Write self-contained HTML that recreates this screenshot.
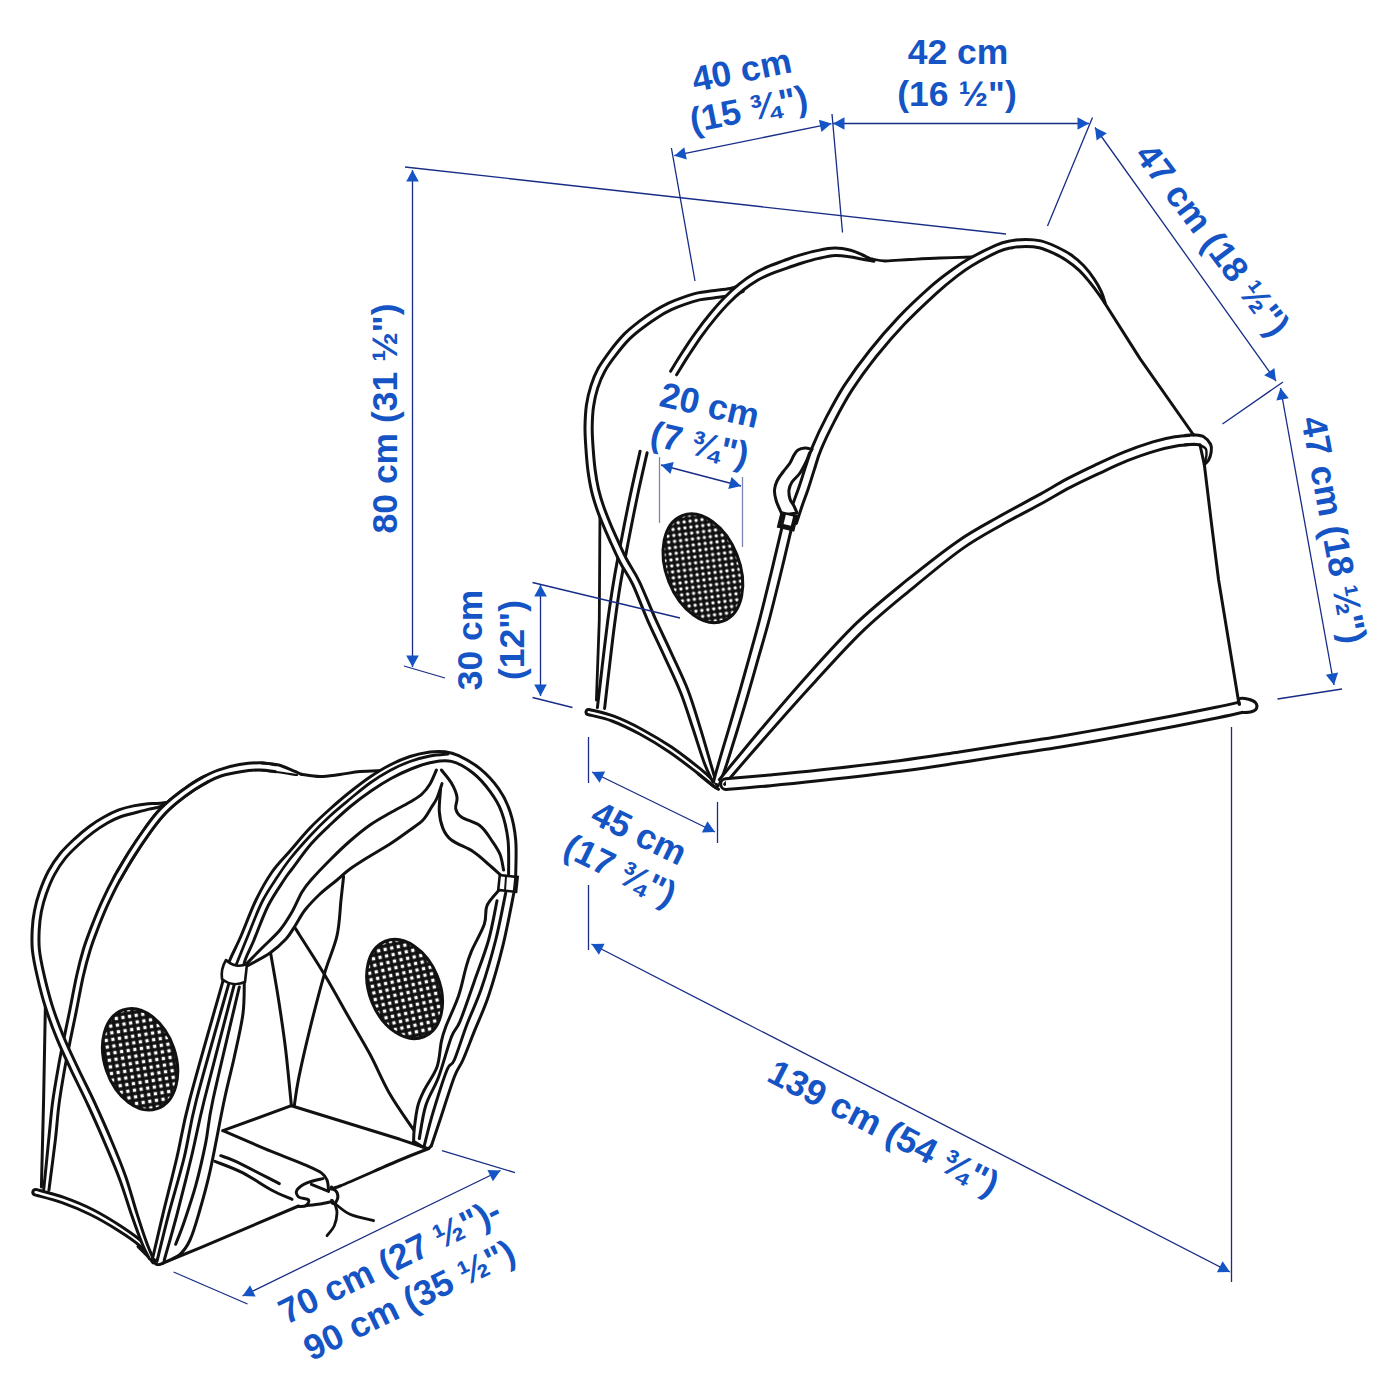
<!DOCTYPE html>
<html><head><meta charset="utf-8"><title>Dimensions</title>
<style>
html,body{margin:0;padding:0;background:#fff;}
svg{display:block}
text{font-family:"Liberation Sans",sans-serif;font-weight:bold;fill:#1554c4;}
</style></head><body>
<svg width="1400" height="1400" viewBox="0 0 1400 1400">
<defs>
<pattern id="mesh" width="6" height="6" patternUnits="userSpaceOnUse" patternTransform="rotate(14)">
<rect width="6" height="6" fill="#111"/><rect x="1.55" y="1.55" width="2.9" height="2.9" rx="0.8" fill="#fff"/>
</pattern>
<pattern id="mesh2" width="6.7" height="6.7" patternUnits="userSpaceOnUse" patternTransform="rotate(10)">
<rect width="6.7" height="6.7" fill="#111"/><rect x="1.7" y="1.7" width="3.3" height="3.3" fill="#fff"/>
</pattern>
</defs>
<rect width="1400" height="1400" fill="#fff"/>
<path d="M600.0,507.0L599.3,620.0L596.4,700.0" fill="none" stroke="#111" stroke-width="2.8" stroke-linecap="round" stroke-linejoin="round"/>
<path d="M640.1,451.2C638.5,458.4 633.6,479.6 630.5,494.3C627.4,508.9 624.3,524.6 621.5,539.3C618.6,554.0 615.7,569.0 613.5,582.4C611.2,595.8 609.8,605.8 607.9,619.5C606.1,633.2 604.2,649.9 602.4,664.6C600.7,679.3 598.3,700.4 597.4,707.6L604.6,708.4C605.4,701.3 607.8,680.1 609.6,665.4C611.3,650.8 613.2,634.1 615.1,620.5C616.9,606.8 618.3,596.9 620.5,583.6C622.8,570.3 625.7,555.3 628.5,540.7C631.4,526.0 634.4,510.4 637.5,495.7C640.6,481.1 645.5,459.9 647.1,452.8Z" fill="#fff" stroke="none"/>
<path d="M640.1,451.2C638.5,458.4 633.6,479.6 630.5,494.3C627.4,508.9 624.3,524.6 621.5,539.3C618.6,554.0 615.7,569.0 613.5,582.4C611.2,595.8 609.8,605.8 607.9,619.5C606.1,633.2 604.2,649.9 602.4,664.6C600.7,679.3 598.3,700.4 597.4,707.6M604.6,708.4C605.4,701.3 607.8,680.1 609.6,665.4C611.3,650.8 613.2,634.1 615.1,620.5C616.9,606.8 618.3,596.9 620.5,583.6C622.8,570.3 625.7,555.3 628.5,540.7C631.4,526.0 634.4,510.4 637.5,495.7C640.6,481.1 645.5,459.9 647.1,452.8" fill="none" stroke="#111" stroke-width="3" stroke-linecap="round" stroke-linejoin="round"/>
<path d="M587.8,714.5C591.8,715.6 603.3,717.7 612.0,721.0C620.7,724.3 630.7,729.2 640.2,734.3C649.6,739.4 659.1,745.1 668.5,751.5C678.0,757.8 689.9,767.2 697.1,772.7C704.2,778.2 708.4,782.0 711.6,784.5C714.8,787.0 715.4,787.3 716.1,787.9L717.9,786.1C717.3,785.3 717.2,784.4 714.2,781.5C711.3,778.6 707.3,774.5 700.1,768.7C693.0,763.0 681.0,753.7 671.5,747.1C661.9,740.6 652.2,734.9 642.6,729.7C633.0,724.5 622.7,719.5 613.8,716.2C604.9,712.8 593.3,710.6 589.2,709.5Z" fill="#fff" stroke="none"/>
<path d="M587.8,714.5C591.8,715.6 603.3,717.7 612.0,721.0C620.7,724.3 630.7,729.2 640.2,734.3C649.6,739.4 659.1,745.1 668.5,751.5C678.0,757.8 689.9,767.2 697.1,772.7C704.2,778.2 708.4,782.0 711.6,784.5C714.8,787.0 715.4,787.3 716.1,787.9M717.9,786.1C717.3,785.3 717.2,784.4 714.2,781.5C711.3,778.6 707.3,774.5 700.1,768.7C693.0,763.0 681.0,753.7 671.5,747.1C661.9,740.6 652.2,734.9 642.6,729.7C633.0,724.5 622.7,719.5 613.8,716.2C604.9,712.8 593.3,710.6 589.2,709.5A2.6,2.6 0 0 0 587.8,714.5" fill="none" stroke="#111" stroke-width="3" stroke-linecap="round" stroke-linejoin="round"/>
<path d="M698.6,774.3C701.0,776.2 709.6,783.2 712.9,785.7C716.2,788.2 717.6,788.7 718.6,789.3" fill="none" stroke="#111" stroke-width="3" stroke-linecap="round" stroke-linejoin="round"/>
<path d="M740.8,284.6C739.0,285.3 734.9,287.5 730.2,288.5C725.5,289.5 717.9,290.0 712.5,290.7C707.1,291.5 702.7,291.8 697.8,292.9C692.9,294.0 688.0,295.6 683.1,297.3C678.2,299.0 673.3,300.8 668.5,303.1C663.6,305.5 658.7,308.2 653.8,311.2C648.9,314.3 644.1,317.7 639.2,321.4C634.3,325.2 629.3,329.0 624.4,333.9C619.6,338.8 614.5,345.1 610.1,350.8C605.8,356.6 601.5,362.4 598.2,368.3C595.0,374.1 592.8,379.8 590.9,385.9C588.9,392.1 587.4,398.4 586.4,405.2C585.5,412.0 585.1,419.8 585.0,427.0C584.9,434.1 585.4,441.0 585.9,448.2C586.4,455.5 587.0,463.4 587.9,470.5C588.9,477.6 590.0,484.5 591.5,490.8C592.9,497.1 594.6,502.2 596.6,508.2C598.6,514.1 601.2,520.5 603.7,526.4C606.1,532.3 608.4,537.3 611.2,543.5C614.1,549.7 617.2,556.9 620.8,563.7C624.4,570.5 628.2,574.8 632.8,584.5C637.3,594.1 642.9,609.5 648.2,621.6C653.5,633.6 659.1,644.7 664.5,656.6C669.9,668.5 676.0,680.7 680.7,692.8C685.5,704.9 689.1,717.3 693.1,729.1C697.0,740.9 701.3,755.0 704.6,763.8C707.9,772.7 711.5,778.9 712.9,781.9L715.7,780.9C714.8,777.7 712.9,770.9 710.2,762.0C707.6,753.0 703.7,738.9 699.9,726.9C696.2,714.9 692.6,702.2 687.9,690.0C683.1,677.8 676.9,665.3 671.5,653.4C666.1,641.5 660.6,630.4 655.2,618.4C649.8,606.4 643.9,591.0 639.2,581.3C634.6,571.7 630.8,567.1 627.2,560.3C623.6,553.5 620.6,546.6 617.8,540.5C615.0,534.4 612.7,529.4 610.3,523.6C607.9,517.8 605.4,511.6 603.4,505.8C601.4,500.1 599.9,495.2 598.5,489.2C597.1,483.1 596.0,476.4 595.1,469.5C594.2,462.6 593.6,454.8 593.1,447.8C592.6,440.7 592.1,434.0 592.2,427.0C592.3,420.1 592.6,412.7 593.6,406.2C594.5,399.7 595.9,393.8 597.7,388.1C599.6,382.3 601.5,377.2 604.6,371.7C607.6,366.2 611.7,360.6 615.9,355.2C620.0,349.7 624.9,343.6 629.6,338.9C634.2,334.3 638.9,330.7 643.6,327.2C648.3,323.6 653.0,320.3 657.6,317.4C662.3,314.4 666.9,311.9 671.5,309.7C676.2,307.4 680.8,305.7 685.5,304.1C690.1,302.5 694.7,301.0 699.4,299.9C704.0,298.9 708.1,298.6 713.5,297.9C718.9,297.1 726.8,296.6 731.8,295.5C736.7,294.4 741.3,292.1 743.2,291.4Z" fill="#fff" stroke="none"/>
<path d="M740.8,284.6C739.0,285.3 734.9,287.5 730.2,288.5C725.5,289.5 717.9,290.0 712.5,290.7C707.1,291.5 702.7,291.8 697.8,292.9C692.9,294.0 688.0,295.6 683.1,297.3C678.2,299.0 673.3,300.8 668.5,303.1C663.6,305.5 658.7,308.2 653.8,311.2C648.9,314.3 644.1,317.7 639.2,321.4C634.3,325.2 629.3,329.0 624.4,333.9C619.6,338.8 614.5,345.1 610.1,350.8C605.8,356.6 601.5,362.4 598.2,368.3C595.0,374.1 592.8,379.8 590.9,385.9C588.9,392.1 587.4,398.4 586.4,405.2C585.5,412.0 585.1,419.8 585.0,427.0C584.9,434.1 585.4,441.0 585.9,448.2C586.4,455.5 587.0,463.4 587.9,470.5C588.9,477.6 590.0,484.5 591.5,490.8C592.9,497.1 594.6,502.2 596.6,508.2C598.6,514.1 601.2,520.5 603.7,526.4C606.1,532.3 608.4,537.3 611.2,543.5C614.1,549.7 617.2,556.9 620.8,563.7C624.4,570.5 628.2,574.8 632.8,584.5C637.3,594.1 642.9,609.5 648.2,621.6C653.5,633.6 659.1,644.7 664.5,656.6C669.9,668.5 676.0,680.7 680.7,692.8C685.5,704.9 689.1,717.3 693.1,729.1C697.0,740.9 701.3,755.0 704.6,763.8C707.9,772.7 711.5,778.9 712.9,781.9M715.7,780.9C714.8,777.7 712.9,770.9 710.2,762.0C707.6,753.0 703.7,738.9 699.9,726.9C696.2,714.9 692.6,702.2 687.9,690.0C683.1,677.8 676.9,665.3 671.5,653.4C666.1,641.5 660.6,630.4 655.2,618.4C649.8,606.4 643.9,591.0 639.2,581.3C634.6,571.7 630.8,567.1 627.2,560.3C623.6,553.5 620.6,546.6 617.8,540.5C615.0,534.4 612.7,529.4 610.3,523.6C607.9,517.8 605.4,511.6 603.4,505.8C601.4,500.1 599.9,495.2 598.5,489.2C597.1,483.1 596.0,476.4 595.1,469.5C594.2,462.6 593.6,454.8 593.1,447.8C592.6,440.7 592.1,434.0 592.2,427.0C592.3,420.1 592.6,412.7 593.6,406.2C594.5,399.7 595.9,393.8 597.7,388.1C599.6,382.3 601.5,377.2 604.6,371.7C607.6,366.2 611.7,360.6 615.9,355.2C620.0,349.7 624.9,343.6 629.6,338.9C634.2,334.3 638.9,330.7 643.6,327.2C648.3,323.6 653.0,320.3 657.6,317.4C662.3,314.4 666.9,311.9 671.5,309.7C676.2,307.4 680.8,305.7 685.5,304.1C690.1,302.5 694.7,301.0 699.4,299.9C704.0,298.9 708.1,298.6 713.5,297.9C718.9,297.1 726.8,296.6 731.8,295.5C736.7,294.4 741.3,292.1 743.2,291.4" fill="none" stroke="#111" stroke-width="3" stroke-linecap="round" stroke-linejoin="round"/>
<path d="M781.8,528.2C780.1,535.2 775.4,555.2 771.8,570.3C768.1,585.4 763.5,604.6 759.8,618.8C756.1,633.1 753.0,643.9 749.7,655.8C746.4,667.7 743.4,678.3 740.1,690.2C736.7,702.0 732.9,714.9 729.4,726.8C725.9,738.7 721.7,752.5 719.1,761.7C716.4,770.9 714.3,778.6 713.4,782.0L719.6,784.0C720.8,780.7 723.7,773.2 726.7,764.1C729.7,755.0 733.9,741.1 737.6,729.2C741.2,717.3 745.1,704.5 748.5,692.6C752.0,680.8 755.0,670.1 758.3,658.2C761.7,646.3 765.0,635.5 768.8,621.2C772.6,606.9 777.3,587.7 781.0,572.5C784.7,557.4 789.4,537.4 791.0,530.4Z" fill="#fff" stroke="none"/>
<path d="M781.8,528.2C780.1,535.2 775.4,555.2 771.8,570.3C768.1,585.4 763.5,604.6 759.8,618.8C756.1,633.1 753.0,643.9 749.7,655.8C746.4,667.7 743.4,678.3 740.1,690.2C736.7,702.0 732.9,714.9 729.4,726.8C725.9,738.7 721.7,752.5 719.1,761.7C716.4,770.9 714.3,778.6 713.4,782.0M719.6,784.0C720.8,780.7 723.7,773.2 726.7,764.1C729.7,755.0 733.9,741.1 737.6,729.2C741.2,717.3 745.1,704.5 748.5,692.6C752.0,680.8 755.0,670.1 758.3,658.2C761.7,646.3 765.0,635.5 768.8,621.2C772.6,606.9 777.3,587.7 781.0,572.5C784.7,557.4 789.4,537.4 791.0,530.4" fill="none" stroke="#111" stroke-width="3" stroke-linecap="round" stroke-linejoin="round"/>
<path d="M724.7,784.3C731.1,776.8 748.4,756.6 763.2,739.8C778.0,722.9 796.9,701.5 813.6,683.3C830.3,665.0 846.9,646.3 863.5,630.4C880.0,614.5 896.6,601.4 913.1,587.8C929.6,574.1 947.7,559.1 962.5,548.6C977.4,538.1 988.9,532.3 1002.1,524.7C1015.4,517.2 1030.7,509.4 1042.1,503.2C1053.6,496.9 1061.2,492.1 1070.7,487.2C1080.2,482.2 1089.5,477.9 1099.0,473.5C1108.4,469.1 1118.0,464.5 1127.4,460.7C1136.9,457.0 1147.5,453.3 1155.7,450.9C1163.8,448.5 1170.0,447.1 1176.5,446.0C1183.0,444.9 1191.7,444.6 1194.8,444.3L1193.8,434.9C1190.7,435.2 1181.7,435.6 1174.9,436.8C1168.1,437.9 1161.4,439.3 1152.9,441.9C1144.5,444.5 1133.6,448.2 1124.0,452.1C1114.3,456.0 1104.6,460.6 1095.0,465.1C1085.5,469.7 1076.0,474.2 1066.5,479.2C1057.0,484.3 1049.3,489.1 1037.9,495.4C1026.4,501.8 1011.3,509.6 997.9,517.3C984.5,524.9 972.6,530.9 957.5,541.4C942.3,551.9 923.8,566.6 906.9,580.2C890.1,593.9 873.3,607.1 856.5,623.2C839.8,639.3 823.0,658.2 806.4,676.7C789.8,695.2 771.3,717.1 756.8,734.2C742.3,751.4 725.6,772.2 719.3,779.7Z" fill="#fff" stroke="none"/>
<path d="M724.7,784.3C731.1,776.8 748.4,756.6 763.2,739.8C778.0,722.9 796.9,701.5 813.6,683.3C830.3,665.0 846.9,646.3 863.5,630.4C880.0,614.5 896.6,601.4 913.1,587.8C929.6,574.1 947.7,559.1 962.5,548.6C977.4,538.1 988.9,532.3 1002.1,524.7C1015.4,517.2 1030.7,509.4 1042.1,503.2C1053.6,496.9 1061.2,492.1 1070.7,487.2C1080.2,482.2 1089.5,477.9 1099.0,473.5C1108.4,469.1 1118.0,464.5 1127.4,460.7C1136.9,457.0 1147.5,453.3 1155.7,450.9C1163.8,448.5 1170.0,447.1 1176.5,446.0C1183.0,444.9 1191.7,444.6 1194.8,444.3M1193.8,434.9C1190.7,435.2 1181.7,435.6 1174.9,436.8C1168.1,437.9 1161.4,439.3 1152.9,441.9C1144.5,444.5 1133.6,448.2 1124.0,452.1C1114.3,456.0 1104.6,460.6 1095.0,465.1C1085.5,469.7 1076.0,474.2 1066.5,479.2C1057.0,484.3 1049.3,489.1 1037.9,495.4C1026.4,501.8 1011.3,509.6 997.9,517.3C984.5,524.9 972.6,530.9 957.5,541.4C942.3,551.9 923.8,566.6 906.9,580.2C890.1,593.9 873.3,607.1 856.5,623.2C839.8,639.3 823.0,658.2 806.4,676.7C789.8,695.2 771.3,717.1 756.8,734.2C742.3,751.4 725.6,772.2 719.3,779.7" fill="none" stroke="#111" stroke-width="3" stroke-linecap="round" stroke-linejoin="round"/>
<path d="M1190,435 C1200,434.5 1209,438 1211,447 C1212,455 1209,461 1204.5,464.5 L1200,445 L1190,444.4 Z" fill="#fff" stroke="none"/>
<path d="M1185.0,435.4C1186.5,435.3 1191.1,434.7 1194.3,435.0C1197.5,435.3 1201.3,435.4 1204.0,437.0C1206.7,438.6 1209.5,442.0 1210.7,444.5C1211.9,447.0 1211.6,449.4 1211.2,452.0C1210.8,454.6 1209.8,457.9 1208.6,460.0C1207.4,462.1 1205.0,463.8 1204.3,464.5" fill="none" stroke="#111" stroke-width="3" stroke-linecap="round" stroke-linejoin="round"/>
<path d="M1185.0,444.9C1186.5,444.8 1191.8,444.3 1194.3,444.3C1196.8,444.3 1199.0,444.9 1200.0,445.0" fill="none" stroke="#111" stroke-width="3" stroke-linecap="round" stroke-linejoin="round"/>
<path d="M1200.0,445.0C1201.0,445.6 1204.6,446.8 1205.7,448.6C1206.8,450.4 1206.6,453.1 1206.4,455.7C1206.2,458.3 1204.7,462.6 1204.3,464.0" fill="none" stroke="#111" stroke-width="2.4" stroke-linecap="round" stroke-linejoin="round"/>
<path d="M726.4,789.4C733.8,788.8 754.8,787.2 770.5,785.7C786.2,784.3 798.9,783.0 820.6,780.6C842.3,778.2 877.3,774.3 900.7,771.3C924.1,768.3 940.8,765.6 960.8,762.6C980.8,759.6 1004.1,755.7 1020.8,753.1C1037.5,750.5 1044.7,749.7 1060.9,747.0C1077.1,744.3 1098.9,740.4 1118.0,737.0C1137.0,733.5 1158.6,729.5 1175.3,726.3C1192.0,723.0 1206.3,720.2 1218.1,717.7C1229.9,715.3 1241.5,712.6 1246.2,711.5L1243.8,701.1C1239.2,702.1 1227.7,704.8 1215.9,707.3C1204.2,709.7 1189.9,712.6 1173.3,715.7C1156.6,718.9 1135.1,723.0 1116.0,726.4C1097.0,729.9 1075.3,733.7 1059.1,736.4C1043.0,739.1 1035.8,739.9 1019.2,742.5C1002.5,745.1 979.2,749.0 959.2,752.0C939.2,755.0 922.6,757.7 899.3,760.7C876.0,763.7 841.0,767.6 819.4,770.0C797.8,772.4 785.1,773.6 769.5,775.1C753.9,776.5 732.9,778.2 725.6,778.8Z" fill="#fff" stroke="none"/>
<path d="M726.4,789.4C733.8,788.8 754.8,787.2 770.5,785.7C786.2,784.3 798.9,783.0 820.6,780.6C842.3,778.2 877.3,774.3 900.7,771.3C924.1,768.3 940.8,765.6 960.8,762.6C980.8,759.6 1004.1,755.7 1020.8,753.1C1037.5,750.5 1044.7,749.7 1060.9,747.0C1077.1,744.3 1098.9,740.4 1118.0,737.0C1137.0,733.5 1158.6,729.5 1175.3,726.3C1192.0,723.0 1206.3,720.2 1218.1,717.7C1229.9,715.3 1241.5,712.6 1246.2,711.5M1243.8,701.1C1239.2,702.1 1227.7,704.8 1215.9,707.3C1204.2,709.7 1189.9,712.6 1173.3,715.7C1156.6,718.9 1135.1,723.0 1116.0,726.4C1097.0,729.9 1075.3,733.7 1059.1,736.4C1043.0,739.1 1035.8,739.9 1019.2,742.5C1002.5,745.1 979.2,749.0 959.2,752.0C939.2,755.0 922.6,757.7 899.3,760.7C876.0,763.7 841.0,767.6 819.4,770.0C797.8,772.4 785.1,773.6 769.5,775.1C753.9,776.5 732.9,778.2 725.6,778.8A5.3,5.3 0 0 0 726.4,789.4" fill="none" stroke="#111" stroke-width="3" stroke-linecap="round" stroke-linejoin="round"/>
<path d="M1239.3,700 C1246,698 1254,699.5 1256.3,705 C1257.5,710 1252,712.5 1244,712.3 L1240,706 Z" fill="#fff" stroke="none"/>
<path d="M1239.5,704.3C1239.5,703.4 1237.8,699.6 1239.3,698.8C1240.8,698.0 1245.9,698.6 1248.6,699.3C1251.3,700.0 1254.4,701.3 1255.7,702.9C1257.0,704.5 1257.1,707.1 1256.4,708.6C1255.7,710.1 1253.6,711.1 1251.4,711.8C1249.2,712.5 1244.4,712.5 1243.0,712.6" fill="none" stroke="#111" stroke-width="3" stroke-linecap="round" stroke-linejoin="round"/>
<path d="M1105.0,303.5L1140.0,358.6L1193.6,435.0" fill="none" stroke="#111" stroke-width="3" stroke-linecap="round" stroke-linejoin="round"/>
<path d="M1200.0,445.0L1204.3,464.3L1211.4,522.9L1218.6,580.0L1239.0,704.0" fill="none" stroke="#111" stroke-width="3" stroke-linecap="round" stroke-linejoin="round"/>
<path d="M872.0,259.0C874.2,259.3 878.7,260.9 885.0,261.0C891.3,261.1 900.8,260.0 910.0,259.5C919.2,259.0 929.7,258.4 940.0,258.0C950.3,257.6 966.7,257.2 972.0,257.0" fill="none" stroke="#111" stroke-width="2.8" stroke-linecap="round" stroke-linejoin="round"/>
<path d="M676.6,374.8C678.4,372.0 683.1,364.0 687.2,357.6C691.4,351.2 696.7,343.0 701.4,336.3C706.2,329.7 711.0,323.6 715.7,317.9C720.4,312.3 724.8,307.1 729.5,302.5C734.1,297.8 739.0,293.5 743.7,289.8C748.3,286.1 753.0,282.9 757.6,280.2C762.3,277.5 766.7,275.6 771.5,273.6C776.3,271.6 781.4,270.0 786.3,268.3C791.3,266.5 795.8,264.9 801.2,263.2C806.6,261.6 813.2,259.7 818.8,258.4C824.5,257.1 830.0,255.8 835.1,255.5C840.2,255.3 845.0,256.1 849.4,256.7C853.8,257.3 857.3,258.2 861.4,259.0C865.5,259.8 871.8,260.9 873.9,261.2L874.1,260.8C872.2,259.8 866.5,256.7 862.6,255.0C858.7,253.3 855.2,251.5 850.6,250.3C846.0,249.2 840.5,248.0 834.9,248.1C829.3,248.1 823.2,249.4 817.2,250.6C811.1,251.8 804.4,253.7 798.8,255.4C793.2,257.1 788.7,258.9 783.7,260.7C778.6,262.6 773.4,264.2 768.5,266.4C763.5,268.6 758.7,270.8 753.8,273.8C748.9,276.7 744.0,280.2 739.1,284.2C734.3,288.2 729.3,292.7 724.5,297.5C719.7,302.4 715.1,307.7 710.3,313.5C705.5,319.3 700.6,325.5 695.8,332.3C690.9,339.0 685.5,347.3 681.4,353.8C677.2,360.3 672.4,368.3 670.6,371.2Z" fill="#fff" stroke="none"/>
<path d="M676.6,374.8C678.4,372.0 683.1,364.0 687.2,357.6C691.4,351.2 696.7,343.0 701.4,336.3C706.2,329.7 711.0,323.6 715.7,317.9C720.4,312.3 724.8,307.1 729.5,302.5C734.1,297.8 739.0,293.5 743.7,289.8C748.3,286.1 753.0,282.9 757.6,280.2C762.3,277.5 766.7,275.6 771.5,273.6C776.3,271.6 781.4,270.0 786.3,268.3C791.3,266.5 795.8,264.9 801.2,263.2C806.6,261.6 813.2,259.7 818.8,258.4C824.5,257.1 830.0,255.8 835.1,255.5C840.2,255.3 845.0,256.1 849.4,256.7C853.8,257.3 857.3,258.2 861.4,259.0C865.5,259.8 871.8,260.9 873.9,261.2M874.1,260.8C872.2,259.8 866.5,256.7 862.6,255.0C858.7,253.3 855.2,251.5 850.6,250.3C846.0,249.2 840.5,248.0 834.9,248.1C829.3,248.1 823.2,249.4 817.2,250.6C811.1,251.8 804.4,253.7 798.8,255.4C793.2,257.1 788.7,258.9 783.7,260.7C778.6,262.6 773.4,264.2 768.5,266.4C763.5,268.6 758.7,270.8 753.8,273.8C748.9,276.7 744.0,280.2 739.1,284.2C734.3,288.2 729.3,292.7 724.5,297.5C719.7,302.4 715.1,307.7 710.3,313.5C705.5,319.3 700.6,325.5 695.8,332.3C690.9,339.0 685.5,347.3 681.4,353.8C677.2,360.3 672.4,368.3 670.6,371.2" fill="none" stroke="#111" stroke-width="3" stroke-linecap="round" stroke-linejoin="round"/>
<path d="M796.4,523.4C797.3,520.6 800.0,512.2 801.9,506.5C803.8,500.8 805.9,495.7 808.0,489.5C810.1,483.3 812.2,476.1 814.4,469.4C816.5,462.8 817.7,457.6 821.0,449.7C824.2,441.8 828.9,432.0 834.0,422.1C839.1,412.2 844.7,401.4 851.8,390.4C858.9,379.5 867.7,367.4 876.5,356.3C885.4,345.2 894.8,334.3 904.8,323.8C914.7,313.3 927.8,301.2 936.4,293.3C945.1,285.4 950.8,281.0 956.7,276.4C962.6,271.8 964.9,269.9 971.9,265.7C978.8,261.6 991.7,254.7 998.4,251.7C1005.1,248.7 1007.5,248.6 1012.1,247.7C1016.6,246.9 1021.2,246.4 1025.7,246.4C1030.2,246.4 1034.7,246.6 1039.2,247.7C1043.7,248.8 1048.3,250.8 1052.8,252.9C1057.4,255.0 1062.2,257.5 1066.6,260.4C1071.0,263.3 1075.4,266.7 1079.2,270.3C1083.1,274.0 1086.6,278.4 1089.8,282.3C1093.0,286.3 1096.0,290.4 1098.5,293.9C1101.0,297.3 1103.7,301.6 1104.8,303.1L1105.2,302.9C1104.6,301.1 1103.3,296.1 1101.5,292.1C1099.7,288.1 1097.2,283.5 1094.2,279.1C1091.3,274.7 1087.7,269.8 1083.8,265.7C1079.8,261.6 1075.2,257.8 1070.6,254.6C1065.9,251.4 1060.7,248.8 1055.8,246.5C1050.8,244.2 1045.8,242.1 1040.8,240.9C1035.8,239.7 1030.7,239.4 1025.7,239.4C1020.7,239.4 1015.7,239.9 1010.7,240.9C1005.7,241.8 1002.7,242.2 995.6,245.3C988.5,248.4 975.4,255.1 968.1,259.3C960.8,263.4 958.2,265.4 951.9,270.0C945.6,274.6 939.5,278.8 930.6,286.7C921.6,294.7 908.4,306.9 898.2,317.6C888.1,328.3 878.5,339.4 869.5,350.7C860.5,362.0 851.5,374.4 844.2,385.6C837.0,396.8 831.3,407.8 826.0,417.9C820.7,428.0 816.0,438.2 812.6,446.3C809.3,454.4 807.9,459.9 805.6,466.6C803.4,473.3 801.3,480.4 799.2,486.5C797.1,492.7 795.0,497.8 793.1,503.5C791.2,509.2 788.5,517.7 787.6,520.6Z" fill="#fff" stroke="none"/>
<path d="M796.4,523.4C797.3,520.6 800.0,512.2 801.9,506.5C803.8,500.8 805.9,495.7 808.0,489.5C810.1,483.3 812.2,476.1 814.4,469.4C816.5,462.8 817.7,457.6 821.0,449.7C824.2,441.8 828.9,432.0 834.0,422.1C839.1,412.2 844.7,401.4 851.8,390.4C858.9,379.5 867.7,367.4 876.5,356.3C885.4,345.2 894.8,334.3 904.8,323.8C914.7,313.3 927.8,301.2 936.4,293.3C945.1,285.4 950.8,281.0 956.7,276.4C962.6,271.8 964.9,269.9 971.9,265.7C978.8,261.6 991.7,254.7 998.4,251.7C1005.1,248.7 1007.5,248.6 1012.1,247.7C1016.6,246.9 1021.2,246.4 1025.7,246.4C1030.2,246.4 1034.7,246.6 1039.2,247.7C1043.7,248.8 1048.3,250.8 1052.8,252.9C1057.4,255.0 1062.2,257.5 1066.6,260.4C1071.0,263.3 1075.4,266.7 1079.2,270.3C1083.1,274.0 1086.6,278.4 1089.8,282.3C1093.0,286.3 1096.0,290.4 1098.5,293.9C1101.0,297.3 1103.7,301.6 1104.8,303.1M1105.2,302.9C1104.6,301.1 1103.3,296.1 1101.5,292.1C1099.7,288.1 1097.2,283.5 1094.2,279.1C1091.3,274.7 1087.7,269.8 1083.8,265.7C1079.8,261.6 1075.2,257.8 1070.6,254.6C1065.9,251.4 1060.7,248.8 1055.8,246.5C1050.8,244.2 1045.8,242.1 1040.8,240.9C1035.8,239.7 1030.7,239.4 1025.7,239.4C1020.7,239.4 1015.7,239.9 1010.7,240.9C1005.7,241.8 1002.7,242.2 995.6,245.3C988.5,248.4 975.4,255.1 968.1,259.3C960.8,263.4 958.2,265.4 951.9,270.0C945.6,274.6 939.5,278.8 930.6,286.7C921.6,294.7 908.4,306.9 898.2,317.6C888.1,328.3 878.5,339.4 869.5,350.7C860.5,362.0 851.5,374.4 844.2,385.6C837.0,396.8 831.3,407.8 826.0,417.9C820.7,428.0 816.0,438.2 812.6,446.3C809.3,454.4 807.9,459.9 805.6,466.6C803.4,473.3 801.3,480.4 799.2,486.5C797.1,492.7 795.0,497.8 793.1,503.5C791.2,509.2 788.5,517.7 787.6,520.6" fill="none" stroke="#111" stroke-width="3" stroke-linecap="round" stroke-linejoin="round"/>
<path d="M812.0,449.5C810.8,449.2 807.3,447.9 805.0,448.0C802.7,448.1 799.8,448.8 798.0,450.0C796.2,451.2 795.3,452.8 794.0,455.0C792.7,457.2 791.8,460.2 790.0,463.0C788.2,465.8 785.2,469.0 783.0,472.0C780.8,475.0 778.4,478.0 777.0,481.0C775.6,484.0 774.7,486.8 774.5,490.0C774.3,493.2 775.1,496.7 776.0,500.0C776.9,503.3 778.9,507.5 780.0,510.0C781.1,512.5 782.1,514.2 782.5,515.0L797.0,513.0C796.5,511.8 795.2,508.3 794.0,506.0C792.8,503.7 790.8,501.7 790.0,499.0C789.2,496.3 788.7,492.8 789.0,490.0C789.3,487.2 790.2,484.8 792.0,482.0C793.8,479.2 797.7,476.3 800.0,473.0C802.3,469.7 804.4,465.3 806.0,462.0C807.6,458.7 808.9,454.5 809.5,453.0Z" fill="#fff" stroke="#111" stroke-width="3" stroke-linejoin="round"/>
<g transform="rotate(14 788 521.5)"><rect x="778.5" y="513" width="18" height="17" fill="#111"/><rect x="784.3" y="515.5" width="7.5" height="9.5" fill="#fff"/></g>
<ellipse cx="702.9" cy="568.3" rx="36.6" ry="56.6" transform="rotate(-21.5 702.9 568.3)" fill="url(#mesh)" stroke="#111" stroke-width="3"/>
<line x1="405" y1="167" x2="1006" y2="234" stroke="#172c86" stroke-width="1.3"/>
<line x1="412.5" y1="170" x2="412.5" y2="667" stroke="#172c86" stroke-width="1.3"/>
<polygon points="412.5,170.0 418.8,181.5 406.2,181.5" fill="#1554c4"/>
<polygon points="412.5,667.0 406.2,655.5 418.8,655.5" fill="#1554c4"/>
<line x1="404" y1="666" x2="445" y2="678" stroke="#172c86" stroke-width="1.3"/>
<line x1="674.3" y1="155.7" x2="831.4" y2="123.6" stroke="#172c86" stroke-width="1.3"/>
<polygon points="674.3,155.7 684.3,147.3 686.8,159.5" fill="#1554c4"/>
<polygon points="831.4,123.6 821.4,132.0 818.9,119.8" fill="#1554c4"/>
<line x1="671.4" y1="148" x2="695" y2="281" stroke="#172c86" stroke-width="1.3"/>
<line x1="832" y1="114" x2="842.5" y2="232.5" stroke="#172c86" stroke-width="1.3"/>
<line x1="833" y1="123.5" x2="1089" y2="123.5" stroke="#172c86" stroke-width="1.3"/>
<polygon points="833.0,123.5 844.5,117.2 844.5,129.8" fill="#1554c4"/>
<polygon points="1089.0,123.5 1077.5,129.8 1077.5,117.2" fill="#1554c4"/>
<line x1="1092.5" y1="117.5" x2="1047.5" y2="226" stroke="#172c86" stroke-width="1.3"/>
<line x1="1095" y1="127.5" x2="1276" y2="381" stroke="#172c86" stroke-width="1.3"/>
<polygon points="1095.0,127.5 1106.8,133.2 1096.6,140.5" fill="#1554c4"/>
<polygon points="1276.0,381.0 1264.2,375.3 1274.4,368.0" fill="#1554c4"/>
<line x1="1222.5" y1="424" x2="1283" y2="382" stroke="#172c86" stroke-width="1.3"/>
<line x1="1280.5" y1="388" x2="1334" y2="685" stroke="#172c86" stroke-width="1.3"/>
<polygon points="1280.5,388.0 1288.7,398.2 1276.4,400.4" fill="#1554c4"/>
<polygon points="1334.0,685.0 1325.8,674.8 1338.1,672.6" fill="#1554c4"/>
<line x1="1277.5" y1="699" x2="1342" y2="689" stroke="#172c86" stroke-width="1.3"/>
<line x1="1231.5" y1="727" x2="1231.5" y2="1282" stroke="#172c86" stroke-width="1.3"/>
<line x1="591.5" y1="944" x2="1230" y2="1272" stroke="#172c86" stroke-width="1.3"/>
<polygon points="591.5,944.0 604.6,943.7 598.9,954.8" fill="#1554c4"/>
<polygon points="1230.0,1272.0 1216.9,1272.3 1222.6,1261.2" fill="#1554c4"/>
<line x1="588.5" y1="885" x2="588.5" y2="950" stroke="#172c86" stroke-width="1.3"/>
<line x1="588.5" y1="737" x2="588.5" y2="783" stroke="#172c86" stroke-width="1.3"/>
<line x1="592" y1="772" x2="715" y2="832" stroke="#172c86" stroke-width="1.3"/>
<polygon points="592.0,772.0 605.1,771.4 599.6,782.7" fill="#1554c4"/>
<polygon points="715.0,832.0 701.9,832.6 707.4,821.3" fill="#1554c4"/>
<line x1="717.5" y1="802" x2="717.5" y2="843" stroke="#172c86" stroke-width="1.3"/>
<line x1="540.5" y1="585" x2="540.5" y2="696" stroke="#172c86" stroke-width="1.3"/>
<polygon points="540.5,585.0 546.8,596.5 534.2,596.5" fill="#1554c4"/>
<polygon points="540.5,696.0 534.2,684.5 546.8,684.5" fill="#1554c4"/>
<line x1="532.5" y1="582.5" x2="680" y2="618" stroke="#172c86" stroke-width="1.3"/>
<line x1="532.5" y1="697.5" x2="572.5" y2="707.5" stroke="#172c86" stroke-width="1.3"/>
<line x1="659.5" y1="457" x2="659.5" y2="523" stroke="#7b86b0" stroke-width="1.3"/>
<line x1="742.5" y1="477" x2="742.5" y2="547" stroke="#7b86b0" stroke-width="1.3"/>
<line x1="661" y1="465" x2="741" y2="486" stroke="#172c86" stroke-width="1.3"/>
<polygon points="661.0,465.0 673.7,461.9 670.5,474.0" fill="#1554c4"/>
<polygon points="741.0,486.0 728.3,489.1 731.5,477.0" fill="#1554c4"/>
<text x="0" y="0" transform="translate(744,82) rotate(-11.5)" text-anchor="middle" font-size="35.5">40 cm</text>
<text x="0" y="0" transform="translate(751,121) rotate(-11.5)" text-anchor="middle" font-size="35.5">(15 ¾")</text>
<text x="0" y="0" transform="translate(958,64) rotate(0)" text-anchor="middle" font-size="35.5">42 cm</text>
<text x="0" y="0" transform="translate(957,106) rotate(0)" text-anchor="middle" font-size="35.5">(16 ½")</text>
<text x="0" y="0" transform="translate(1203,247) rotate(53)" text-anchor="middle" font-size="35.5">47 cm (18 ½")</text>
<text x="0" y="0" transform="translate(1322,532) rotate(79.5)" text-anchor="middle" font-size="35.5">47 cm (18 ½")</text>
<text x="0" y="0" transform="translate(397,418.5) rotate(-90)" text-anchor="middle" font-size="35.5">80 cm (31 ½")</text>
<text x="0" y="0" transform="translate(482,640) rotate(-90)" text-anchor="middle" font-size="35.5">30 cm</text>
<text x="0" y="0" transform="translate(524,640) rotate(-90)" text-anchor="middle" font-size="35.5">(12")</text>
<text x="0" y="0" transform="translate(707,417) rotate(13)" text-anchor="middle" font-size="35.5">20 cm</text>
<text x="0" y="0" transform="translate(697,456) rotate(13)" text-anchor="middle" font-size="35.5">(7 ¾")</text>
<text x="0" y="0" transform="translate(634,844) rotate(26)" text-anchor="middle" font-size="35.5">45 cm</text>
<text x="0" y="0" transform="translate(615,881) rotate(26)" text-anchor="middle" font-size="35.5">(17 ¾")</text>
<text x="0" y="0" transform="translate(878,1138.5) rotate(27.3)" text-anchor="middle" font-size="35.5" textLength="254" lengthAdjust="spacingAndGlyphs">139 cm (54 ¾")</text>
<text x="0" y="0" transform="translate(395,1272) rotate(-26)" text-anchor="middle" font-size="35.5">70 cm (27 ½")-</text>
<text x="0" y="0" transform="translate(414.5,1311) rotate(-26)" text-anchor="middle" font-size="35.5">90 cm (35 ½")</text>
<path d="M45.4,1005.0L43.6,1100.0L41.4,1187.0" fill="none" stroke="#111" stroke-width="3.0" stroke-linecap="round" stroke-linejoin="round"/>
<path d="M48.9,1190.3C49.9,1182.0 53.6,1154.7 55.3,1140.4C57.0,1126.0 57.4,1116.3 59.0,1104.4C60.5,1092.6 62.8,1079.8 64.6,1069.2C66.5,1058.5 68.3,1050.2 70.2,1040.7C72.1,1031.1 74.0,1022.8 76.1,1012.1C78.3,1001.3 80.9,986.6 83.2,976.4C85.5,966.2 87.5,958.7 89.9,951.0C92.2,943.2 94.5,937.3 97.4,929.8C100.3,922.2 103.6,913.9 107.3,905.7C111.1,897.4 115.4,888.4 119.9,880.2C124.4,871.9 129.4,863.6 134.2,856.1C138.9,848.5 143.7,841.4 148.4,834.8C153.1,828.2 157.8,821.8 162.5,816.5C167.1,811.2 171.3,807.5 176.4,803.2C181.6,798.9 188.1,794.1 193.3,790.6C198.4,787.1 202.6,784.7 207.2,782.2C211.9,779.8 215.5,777.8 221.0,776.0C226.6,774.3 234.1,772.8 240.6,771.8C247.1,770.7 254.2,769.9 260.0,769.9C265.8,769.9 273.0,771.5 275.6,771.8L276.4,764.8C273.7,764.5 266.2,762.7 260.0,762.7C253.8,762.7 246.3,763.5 239.4,764.6C232.6,765.8 224.9,767.8 219.0,769.8C213.1,771.7 209.1,773.8 204.2,776.4C199.3,778.9 194.9,781.5 189.5,785.2C184.2,788.8 177.5,793.7 172.2,798.2C166.8,802.7 162.4,806.6 157.5,812.1C152.7,817.6 147.8,824.2 143.0,831.0C138.2,837.7 133.4,844.9 128.6,852.5C123.8,860.2 118.7,868.6 114.1,877.0C109.5,885.4 105.1,894.5 101.3,902.9C97.5,911.3 94.2,919.7 91.2,927.4C88.3,935.1 85.9,941.1 83.5,949.0C81.1,957.0 79.1,964.7 76.8,975.0C74.5,985.3 71.8,1000.0 69.7,1010.7C67.5,1021.5 65.7,1029.8 63.8,1039.3C61.8,1048.9 60.0,1057.3 58.2,1068.0C56.3,1078.7 54.0,1091.6 52.4,1103.6C50.9,1115.5 50.2,1125.3 48.7,1139.6C47.3,1154.0 44.6,1181.4 43.7,1189.7Z" fill="#fff" stroke="none"/>
<path d="M48.9,1190.3C49.9,1182.0 53.6,1154.7 55.3,1140.4C57.0,1126.0 57.4,1116.3 59.0,1104.4C60.5,1092.6 62.8,1079.8 64.6,1069.2C66.5,1058.5 68.3,1050.2 70.2,1040.7C72.1,1031.1 74.0,1022.8 76.1,1012.1C78.3,1001.3 80.9,986.6 83.2,976.4C85.5,966.2 87.5,958.7 89.9,951.0C92.2,943.2 94.5,937.3 97.4,929.8C100.3,922.2 103.6,913.9 107.3,905.7C111.1,897.4 115.4,888.4 119.9,880.2C124.4,871.9 129.4,863.6 134.2,856.1C138.9,848.5 143.7,841.4 148.4,834.8C153.1,828.2 157.8,821.8 162.5,816.5C167.1,811.2 171.3,807.5 176.4,803.2C181.6,798.9 188.1,794.1 193.3,790.6C198.4,787.1 202.6,784.7 207.2,782.2C211.9,779.8 215.5,777.8 221.0,776.0C226.6,774.3 234.1,772.8 240.6,771.8C247.1,770.7 254.2,769.9 260.0,769.9C265.8,769.9 273.0,771.5 275.6,771.8M276.4,764.8C273.7,764.5 266.2,762.7 260.0,762.7C253.8,762.7 246.3,763.5 239.4,764.6C232.6,765.8 224.9,767.8 219.0,769.8C213.1,771.7 209.1,773.8 204.2,776.4C199.3,778.9 194.9,781.5 189.5,785.2C184.2,788.8 177.5,793.7 172.2,798.2C166.8,802.7 162.4,806.6 157.5,812.1C152.7,817.6 147.8,824.2 143.0,831.0C138.2,837.7 133.4,844.9 128.6,852.5C123.8,860.2 118.7,868.6 114.1,877.0C109.5,885.4 105.1,894.5 101.3,902.9C97.5,911.3 94.2,919.7 91.2,927.4C88.3,935.1 85.9,941.1 83.5,949.0C81.1,957.0 79.1,964.7 76.8,975.0C74.5,985.3 71.8,1000.0 69.7,1010.7C67.5,1021.5 65.7,1029.8 63.8,1039.3C61.8,1048.9 60.0,1057.3 58.2,1068.0C56.3,1078.7 54.0,1091.6 52.4,1103.6C50.9,1115.5 50.2,1125.3 48.7,1139.6C47.3,1154.0 44.6,1181.4 43.7,1189.7" fill="none" stroke="#111" stroke-width="3.0" stroke-linecap="round" stroke-linejoin="round"/>
<path d="M262.0,762.9C264.8,763.2 273.5,763.7 278.6,765.0C283.8,766.3 289.1,769.2 292.9,770.7C296.7,772.2 300.0,773.7 301.4,774.3" fill="none" stroke="#111" stroke-width="3.0" stroke-linecap="round" stroke-linejoin="round"/>
<path d="M258.6,770.0C261.5,770.3 269.3,771.2 275.7,772.0C282.1,772.8 293.4,774.5 297.0,775.0" fill="none" stroke="#111" stroke-width="2.2" stroke-linecap="round" stroke-linejoin="round"/>
<path d="M301.4,774.3C304.5,774.7 313.6,776.5 320.0,776.5C326.4,776.5 333.3,775.3 340.0,774.5C346.7,773.7 352.8,772.2 360.0,771.5C367.2,770.8 379.2,770.7 383.0,770.5" fill="none" stroke="#111" stroke-width="3.0" stroke-linecap="round" stroke-linejoin="round"/>
<path d="M34.2,1194.6C38.9,1196.0 52.7,1199.3 62.0,1202.6C71.3,1205.9 80.7,1209.8 90.2,1214.5C99.6,1219.1 110.4,1225.5 118.6,1230.7C126.9,1235.9 134.1,1240.5 139.8,1245.9C145.6,1251.3 150.9,1260.1 153.1,1262.9L155.5,1261.1C153.4,1258.0 148.7,1248.5 143.0,1242.7C137.3,1236.9 129.7,1232.0 121.4,1226.5C113.0,1221.0 102.2,1214.4 92.6,1209.5C83.0,1204.7 73.3,1200.8 63.8,1197.4C54.3,1194.0 40.4,1190.7 35.8,1189.4Z" fill="#fff" stroke="none"/>
<path d="M34.2,1194.6C38.9,1196.0 52.7,1199.3 62.0,1202.6C71.3,1205.9 80.7,1209.8 90.2,1214.5C99.6,1219.1 110.4,1225.5 118.6,1230.7C126.9,1235.9 134.1,1240.5 139.8,1245.9C145.6,1251.3 150.9,1260.1 153.1,1262.9M155.5,1261.1C153.4,1258.0 148.7,1248.5 143.0,1242.7C137.3,1236.9 129.7,1232.0 121.4,1226.5C113.0,1221.0 102.2,1214.4 92.6,1209.5C83.0,1204.7 73.3,1200.8 63.8,1197.4C54.3,1194.0 40.4,1190.7 35.8,1189.4A2.8,2.8 0 0 0 34.2,1194.6" fill="none" stroke="#111" stroke-width="3.0" stroke-linecap="round" stroke-linejoin="round"/>
<path d="M138.0,1246.5C140.0,1248.5 146.8,1255.5 150.0,1258.5C153.2,1261.5 154.8,1263.8 157.0,1264.5C159.2,1265.2 162.4,1263.2 163.5,1263.0" fill="none" stroke="#111" stroke-width="3.0" stroke-linecap="round" stroke-linejoin="round"/>
<path d="M165.8,802.5C164.3,802.7 159.6,803.3 156.7,803.5C153.7,803.7 152.0,803.3 148.1,803.7C144.3,804.1 138.4,804.9 133.5,805.9C128.6,806.9 123.7,808.1 118.8,809.9C113.9,811.8 108.9,814.2 104.0,817.0C99.1,819.7 94.2,822.8 89.3,826.5C84.4,830.1 79.5,834.3 74.6,838.8C69.8,843.3 64.6,848.1 60.2,853.5C55.8,858.9 51.7,864.9 48.3,871.2C44.9,877.6 41.9,885.2 39.6,891.7C37.3,898.3 35.7,904.4 34.5,910.7C33.2,917.1 32.5,923.2 32.2,929.8C31.9,936.4 31.6,942.6 32.4,950.4C33.3,958.2 35.1,967.1 37.3,976.5C39.4,985.9 42.0,996.4 45.3,1006.8C48.5,1017.1 52.4,1027.8 56.8,1038.3C61.1,1048.9 65.9,1058.9 71.1,1070.1C76.4,1081.3 82.5,1093.1 88.2,1105.5C93.9,1117.8 100.1,1131.9 105.4,1144.3C110.6,1156.6 115.5,1167.9 119.8,1179.7C124.2,1191.5 128.0,1204.5 131.7,1215.2C135.4,1225.8 139.2,1236.4 142.2,1243.7C145.1,1251.0 148.2,1256.2 149.4,1258.7L152.6,1257.3C151.6,1254.8 149.0,1249.4 146.4,1242.1C143.8,1234.8 140.3,1224.2 136.9,1213.4C133.5,1202.7 130.1,1189.5 126.0,1177.5C121.8,1165.5 117.1,1154.0 111.8,1141.5C106.6,1129.0 100.3,1114.9 94.6,1102.5C88.9,1090.1 82.7,1078.3 77.5,1067.1C72.2,1056.0 67.5,1046.1 63.2,1035.7C59.0,1025.3 55.1,1014.8 51.9,1004.6C48.8,994.5 46.2,984.1 44.1,974.9C42.0,965.8 40.2,957.1 39.4,949.6C38.6,942.2 38.9,936.4 39.2,930.2C39.5,923.9 40.2,918.1 41.3,912.1C42.5,906.0 44.0,900.3 46.2,894.1C48.4,887.8 51.2,880.6 54.5,874.6C57.7,868.5 61.5,863.0 65.6,857.9C69.8,852.8 74.7,848.3 79.4,844.0C84.0,839.7 88.8,835.6 93.5,832.1C98.2,828.6 102.8,825.7 107.4,823.0C112.0,820.4 116.6,818.2 121.2,816.5C125.8,814.8 130.5,813.9 135.1,812.7C139.7,811.5 145.4,810.0 149.1,809.1C152.8,808.2 154.5,808.2 157.3,807.5C160.2,806.7 164.7,805.0 166.2,804.5Z" fill="#fff" stroke="none"/>
<path d="M165.8,802.5C164.3,802.7 159.6,803.3 156.7,803.5C153.7,803.7 152.0,803.3 148.1,803.7C144.3,804.1 138.4,804.9 133.5,805.9C128.6,806.9 123.7,808.1 118.8,809.9C113.9,811.8 108.9,814.2 104.0,817.0C99.1,819.7 94.2,822.8 89.3,826.5C84.4,830.1 79.5,834.3 74.6,838.8C69.8,843.3 64.6,848.1 60.2,853.5C55.8,858.9 51.7,864.9 48.3,871.2C44.9,877.6 41.9,885.2 39.6,891.7C37.3,898.3 35.7,904.4 34.5,910.7C33.2,917.1 32.5,923.2 32.2,929.8C31.9,936.4 31.6,942.6 32.4,950.4C33.3,958.2 35.1,967.1 37.3,976.5C39.4,985.9 42.0,996.4 45.3,1006.8C48.5,1017.1 52.4,1027.8 56.8,1038.3C61.1,1048.9 65.9,1058.9 71.1,1070.1C76.4,1081.3 82.5,1093.1 88.2,1105.5C93.9,1117.8 100.1,1131.9 105.4,1144.3C110.6,1156.6 115.5,1167.9 119.8,1179.7C124.2,1191.5 128.0,1204.5 131.7,1215.2C135.4,1225.8 139.2,1236.4 142.2,1243.7C145.1,1251.0 148.2,1256.2 149.4,1258.7M152.6,1257.3C151.6,1254.8 149.0,1249.4 146.4,1242.1C143.8,1234.8 140.3,1224.2 136.9,1213.4C133.5,1202.7 130.1,1189.5 126.0,1177.5C121.8,1165.5 117.1,1154.0 111.8,1141.5C106.6,1129.0 100.3,1114.9 94.6,1102.5C88.9,1090.1 82.7,1078.3 77.5,1067.1C72.2,1056.0 67.5,1046.1 63.2,1035.7C59.0,1025.3 55.1,1014.8 51.9,1004.6C48.8,994.5 46.2,984.1 44.1,974.9C42.0,965.8 40.2,957.1 39.4,949.6C38.6,942.2 38.9,936.4 39.2,930.2C39.5,923.9 40.2,918.1 41.3,912.1C42.5,906.0 44.0,900.3 46.2,894.1C48.4,887.8 51.2,880.6 54.5,874.6C57.7,868.5 61.5,863.0 65.6,857.9C69.8,852.8 74.7,848.3 79.4,844.0C84.0,839.7 88.8,835.6 93.5,832.1C98.2,828.6 102.8,825.7 107.4,823.0C112.0,820.4 116.6,818.2 121.2,816.5C125.8,814.8 130.5,813.9 135.1,812.7C139.7,811.5 145.4,810.0 149.1,809.1C152.8,808.2 154.5,808.2 157.3,807.5C160.2,806.7 164.7,805.0 166.2,804.5" fill="none" stroke="#111" stroke-width="3.0" stroke-linecap="round" stroke-linejoin="round"/>
<path d="M119.8,880.3C122.2,876.2 129.4,863.6 134.2,856.1C139.0,848.5 143.7,841.4 148.4,834.8C153.1,828.2 157.8,821.8 162.5,816.5C167.1,811.2 171.3,807.5 176.4,803.2C181.6,798.9 188.1,794.1 193.3,790.6C198.4,787.1 205.0,783.5 207.4,782.1L204.0,776.5C201.6,777.9 194.8,781.6 189.5,785.2C184.2,788.8 177.5,793.7 172.2,798.2C166.8,802.7 162.4,806.6 157.5,812.1C152.7,817.6 147.8,824.2 143.0,831.0C138.2,837.7 133.4,844.9 128.6,852.5C123.8,860.2 116.6,872.9 114.2,876.9Z" fill="#fff" stroke="none"/>
<path d="M119.8,880.3C122.2,876.2 129.4,863.6 134.2,856.1C139.0,848.5 143.7,841.4 148.4,834.8C153.1,828.2 157.8,821.8 162.5,816.5C167.1,811.2 171.3,807.5 176.4,803.2C181.6,798.9 188.1,794.1 193.3,790.6C198.4,787.1 205.0,783.5 207.4,782.1M204.0,776.5C201.6,777.9 194.8,781.6 189.5,785.2C184.2,788.8 177.5,793.7 172.2,798.2C166.8,802.7 162.4,806.6 157.5,812.1C152.7,817.6 147.8,824.2 143.0,831.0C138.2,837.7 133.4,844.9 128.6,852.5C123.8,860.2 116.6,872.9 114.2,876.9" fill="none" stroke="#111" stroke-width="3.0" stroke-linecap="round" stroke-linejoin="round"/>
<path d="M343.6,876.4C343.2,880.3 342.1,890.1 341.0,900.0C339.9,909.9 339.8,923.3 337.0,935.7C334.2,948.1 328.8,958.8 324.3,974.3C319.8,989.8 314.3,1011.2 310.0,1028.6C305.7,1046.0 301.2,1065.8 298.6,1078.6C296.0,1091.4 295.0,1101.2 294.3,1105.7" fill="none" stroke="#111" stroke-width="3.0" stroke-linecap="round" stroke-linejoin="round"/>
<path d="M270.7,953.6C272.0,961.3 276.1,983.9 278.6,1000.0C281.1,1016.1 283.6,1032.4 285.7,1050.0C287.8,1067.6 290.4,1096.4 291.4,1105.7" fill="none" stroke="#111" stroke-width="3.0" stroke-linecap="round" stroke-linejoin="round"/>
<path d="M295.0,927.9C299.9,935.6 315.4,959.4 324.3,974.3C333.2,989.1 341.0,1003.7 348.6,1017.0C356.2,1030.3 363.1,1041.4 370.0,1054.3C376.9,1067.2 382.7,1081.7 390.0,1094.3C397.3,1106.9 409.7,1124.0 413.6,1130.0" fill="none" stroke="#111" stroke-width="3.0" stroke-linecap="round" stroke-linejoin="round"/>
<path d="M222.9,1130.7L291.4,1105.7L400.0,1139.3L422.9,1147.0" fill="none" stroke="#111" stroke-width="3.0" stroke-linecap="round" stroke-linejoin="round"/>
<path d="M222.9,1130.7C231.0,1134.2 257.4,1145.6 271.4,1151.4C285.4,1157.2 298.7,1162.1 307.0,1165.7C315.3,1169.3 318.1,1170.5 321.4,1172.9C324.7,1175.3 325.8,1177.2 327.0,1180.0C328.2,1182.8 328.3,1188.3 328.6,1190.0" fill="none" stroke="#111" stroke-width="3.0" stroke-linecap="round" stroke-linejoin="round"/>
<path d="M322.9,1178.6C320.2,1179.3 311.3,1181.0 307.0,1182.9C302.7,1184.8 298.4,1187.7 297.0,1190.0C295.6,1192.3 296.7,1195.3 298.6,1197.0C300.5,1198.7 307.4,1198.5 308.6,1200.0C309.8,1201.5 307.4,1204.6 305.7,1205.7C304.0,1206.8 299.8,1206.3 298.6,1206.4" fill="none" stroke="#111" stroke-width="3.0" stroke-linecap="round" stroke-linejoin="round"/>
<path d="M311.4,1184.3L328.6,1191.4" fill="none" stroke="#111" stroke-width="3.0" stroke-linecap="round" stroke-linejoin="round"/>
<path d="M331.4,1187.0C332.8,1186.8 328.6,1190.5 340.0,1186.0C351.4,1181.5 385.2,1166.2 400.0,1160.0C414.8,1153.8 423.8,1150.5 428.6,1148.6" fill="none" stroke="#111" stroke-width="3.0" stroke-linecap="round" stroke-linejoin="round"/>
<path d="M305.7,1205.7C308.1,1205.4 315.5,1204.7 320.0,1204.0C324.5,1203.3 330.8,1201.8 332.9,1201.4" fill="none" stroke="#111" stroke-width="3.0" stroke-linecap="round" stroke-linejoin="round"/>
<path d="M298.6,1206.0L200.0,1247.9L162.9,1263.0" fill="none" stroke="#111" stroke-width="3.0" stroke-linecap="round" stroke-linejoin="round"/>
<path d="M220.7,1155.7C223.2,1156.7 225.9,1156.8 235.7,1161.4C245.5,1166.1 272.0,1179.9 279.3,1183.6" fill="none" stroke="#111" stroke-width="3.0" stroke-linecap="round" stroke-linejoin="round"/>
<path d="M215.0,1161.4C219.7,1163.3 233.5,1168.1 242.9,1172.9C252.3,1177.7 263.2,1185.6 271.4,1190.0C279.6,1194.4 288.6,1197.8 292.0,1199.3" fill="none" stroke="#111" stroke-width="3.0" stroke-linecap="round" stroke-linejoin="round"/>
<path d="M330,1189 C337,1188 340,1196 336,1202 C334,1205 331,1204 332,1199" fill="none" stroke="#111" stroke-width="3"/>
<path d="M334.3,1203.0C336.9,1204.9 343.4,1211.3 350.0,1214.3C356.6,1217.2 369.7,1219.6 373.6,1220.7" fill="none" stroke="#111" stroke-width="2.8" stroke-linecap="round" stroke-linejoin="round"/>
<path d="M335.0,1204.0C335.3,1205.5 337.1,1209.3 337.0,1212.9C336.9,1216.5 336.0,1221.9 334.3,1225.7C332.6,1229.5 328.2,1234.0 327.0,1235.7" fill="none" stroke="#111" stroke-width="2.8" stroke-linecap="round" stroke-linejoin="round"/>
<ellipse cx="404.6" cy="989" rx="35.2" ry="51.5" transform="rotate(-22 404.6 989)" fill="url(#mesh2)" stroke="#111" stroke-width="3"/>
<ellipse cx="140.1" cy="1059.3" rx="35.5" ry="52.2" transform="rotate(-19 140.1 1059.3)" fill="url(#mesh2)" stroke="#111" stroke-width="3"/>
<path d="M246.0,964.3C248.7,961.6 256.3,953.7 262.0,948.0C267.7,942.3 275.0,936.0 280.0,930.0C285.0,924.0 288.3,918.3 292.0,912.0C295.7,905.7 298.8,897.3 302.0,892.0C305.2,886.7 306.3,885.3 311.0,880.0C315.7,874.7 323.5,866.5 330.0,860.0C336.5,853.5 343.3,846.8 350.0,841.0C356.7,835.2 363.3,829.7 370.0,825.0C376.7,820.3 383.3,816.8 390.0,813.0C396.7,809.2 404.7,805.2 410.0,802.0C415.3,798.8 418.7,797.0 422.0,794.0C425.3,791.0 427.6,788.0 430.0,784.0C432.4,780.0 435.3,772.3 436.4,770.0L442.0,783.6C441.2,786.0 438.8,793.9 437.0,798.0C435.2,802.1 433.3,804.3 431.0,808.0C428.7,811.7 426.5,816.3 423.0,820.0C419.5,823.7 415.5,826.0 410.0,830.0C404.5,834.0 396.7,839.7 390.0,844.0C383.3,848.3 376.7,851.8 370.0,856.0C363.3,860.2 355.5,865.0 350.0,869.0C344.5,873.0 342.0,875.8 337.0,880.0C332.0,884.2 325.3,889.0 320.0,894.0C314.7,899.0 309.2,904.7 305.0,910.0C300.8,915.3 298.2,921.2 295.0,926.0C291.8,930.8 290.2,934.5 286.0,939.0C281.8,943.5 276.3,948.6 270.0,953.0C263.7,957.4 251.7,963.4 248.0,965.5Z" fill="#fff" stroke="none"/>
<path d="M246.0,964.3C248.7,961.6 256.3,953.7 262.0,948.0C267.7,942.3 275.0,936.0 280.0,930.0C285.0,924.0 288.3,918.3 292.0,912.0C295.7,905.7 298.8,897.3 302.0,892.0C305.2,886.7 306.3,885.3 311.0,880.0C315.7,874.7 323.5,866.5 330.0,860.0C336.5,853.5 343.3,846.8 350.0,841.0C356.7,835.2 363.3,829.7 370.0,825.0C376.7,820.3 383.3,816.8 390.0,813.0C396.7,809.2 404.7,805.2 410.0,802.0C415.3,798.8 418.7,797.0 422.0,794.0C425.3,791.0 427.6,788.0 430.0,784.0C432.4,780.0 435.3,772.3 436.4,770.0" fill="none" stroke="#111" stroke-width="3.0" stroke-linecap="round" stroke-linejoin="round"/>
<path d="M248.0,965.5C251.7,963.4 263.7,957.4 270.0,953.0C276.3,948.6 281.8,943.5 286.0,939.0C290.2,934.5 291.8,930.8 295.0,926.0C298.2,921.2 300.8,915.3 305.0,910.0C309.2,904.7 314.7,899.0 320.0,894.0C325.3,889.0 332.0,884.2 337.0,880.0C342.0,875.8 344.5,873.0 350.0,869.0C355.5,865.0 363.3,860.2 370.0,856.0C376.7,851.8 383.3,848.3 390.0,844.0C396.7,839.7 404.5,834.0 410.0,830.0C415.5,826.0 419.5,823.7 423.0,820.0C426.5,816.3 428.7,811.7 431.0,808.0C433.3,804.3 435.2,802.1 437.0,798.0C438.8,793.9 441.2,786.0 442.0,783.6" fill="none" stroke="#111" stroke-width="3.0" stroke-linecap="round" stroke-linejoin="round"/>
<path d="M440.5,790.0C440.3,793.6 438.9,805.0 439.3,811.4C439.7,817.8 441.0,823.8 443.0,828.6C445.0,833.4 446.4,836.2 451.4,840.0C456.4,843.8 467.1,847.6 473.0,851.4C478.9,855.2 482.3,859.0 487.0,863.0C491.7,867.0 499.0,873.6 501.4,875.7" fill="none" stroke="#111" stroke-width="3.0" stroke-linecap="round" stroke-linejoin="round"/>
<path d="M441.4,770.0C443.1,772.2 448.8,778.5 451.4,783.0C454.0,787.5 456.3,792.7 457.0,797.0C457.7,801.3 455.0,805.3 455.7,808.6C456.4,811.9 457.3,814.1 461.4,817.0C465.4,819.9 475.0,821.9 480.0,825.7C485.0,829.5 488.1,835.2 491.4,840.0C494.7,844.8 498.0,849.3 500.0,854.3C502.0,859.3 503.0,867.4 503.6,870.0" fill="none" stroke="#111" stroke-width="3.0" stroke-linecap="round" stroke-linejoin="round"/>
<path d="M222.9,981.4C224.0,978.1 226.3,969.0 229.3,961.4C232.3,953.8 236.6,946.2 241.0,936.0C245.4,925.8 250.8,910.7 256.0,900.0C261.2,889.3 266.3,880.2 272.0,872.0C277.7,863.8 283.7,858.3 290.0,851.0C296.3,843.7 303.3,835.0 310.0,828.0C316.7,821.0 323.3,815.0 330.0,809.0C336.7,803.0 343.3,797.3 350.0,792.0C356.7,786.7 363.3,781.5 370.0,777.0C376.7,772.5 383.3,768.4 390.0,765.0C396.7,761.6 403.3,758.7 410.0,756.5C416.7,754.3 424.2,752.8 430.0,752.0C435.8,751.2 440.2,751.2 445.0,751.8C449.8,752.4 452.8,752.9 458.6,755.7C464.4,758.5 473.3,763.1 480.0,768.6C486.7,774.1 493.6,781.5 498.6,788.6C503.6,795.7 507.1,802.8 510.0,811.4C512.9,820.0 514.8,829.3 515.7,840.0C516.7,850.7 515.7,869.8 515.7,875.7L508.6,874.3C508.5,868.6 509.2,850.5 508.0,840.0C506.8,829.5 504.4,819.5 501.4,811.4C498.4,803.3 494.7,797.8 490.0,791.4C485.3,785.0 479.4,778.0 473.0,773.0C466.6,768.0 458.4,763.1 451.4,761.4C444.4,759.6 437.7,761.2 431.0,762.5C424.3,763.8 417.7,766.3 411.0,769.0C404.3,771.7 397.7,774.8 391.0,778.5C384.3,782.2 377.7,786.4 371.0,791.0C364.3,795.6 357.7,800.5 351.0,806.0C344.3,811.5 337.7,817.7 331.0,824.0C324.3,830.3 317.5,836.5 311.0,844.0C304.5,851.5 296.5,863.0 292.0,869.0C287.5,875.0 288.0,873.8 284.0,880.0C280.0,886.2 273.0,896.0 268.0,906.0C263.0,916.0 257.9,930.5 254.0,940.0C250.1,949.5 245.9,956.0 244.3,962.9C242.7,969.8 244.3,978.3 244.3,981.4Z" fill="#fff" stroke="none"/>
<path d="M222.9,981.4C224.0,978.1 226.3,969.0 229.3,961.4C232.3,953.8 236.6,946.2 241.0,936.0C245.4,925.8 250.8,910.7 256.0,900.0C261.2,889.3 266.3,880.2 272.0,872.0C277.7,863.8 283.7,858.3 290.0,851.0C296.3,843.7 303.3,835.0 310.0,828.0C316.7,821.0 323.3,815.0 330.0,809.0C336.7,803.0 343.3,797.3 350.0,792.0C356.7,786.7 363.3,781.5 370.0,777.0C376.7,772.5 383.3,768.4 390.0,765.0C396.7,761.6 403.3,758.7 410.0,756.5C416.7,754.3 424.2,752.8 430.0,752.0C435.8,751.2 440.2,751.2 445.0,751.8C449.8,752.4 452.8,752.9 458.6,755.7C464.4,758.5 473.3,763.1 480.0,768.6C486.7,774.1 493.6,781.5 498.6,788.6C503.6,795.7 507.1,802.8 510.0,811.4C512.9,820.0 514.8,829.3 515.7,840.0C516.7,850.7 515.7,869.8 515.7,875.7" fill="none" stroke="#111" stroke-width="3.0" stroke-linecap="round" stroke-linejoin="round"/>
<path d="M244.3,981.4C244.3,978.3 242.7,969.8 244.3,962.9C245.9,956.0 250.1,949.5 254.0,940.0C257.9,930.5 263.0,916.0 268.0,906.0C273.0,896.0 280.0,886.2 284.0,880.0C288.0,873.8 287.5,875.0 292.0,869.0C296.5,863.0 304.5,851.5 311.0,844.0C317.5,836.5 324.3,830.3 331.0,824.0C337.7,817.7 344.3,811.5 351.0,806.0C357.7,800.5 364.3,795.6 371.0,791.0C377.7,786.4 384.3,782.2 391.0,778.5C397.7,774.8 404.3,771.7 411.0,769.0C417.7,766.3 424.3,763.8 431.0,762.5C437.7,761.2 444.4,759.6 451.4,761.4C458.4,763.1 466.6,768.0 473.0,773.0C479.4,778.0 485.3,785.0 490.0,791.4C494.7,797.8 498.4,803.3 501.4,811.4C504.4,819.5 506.8,829.5 508.0,840.0C509.2,850.5 508.5,868.6 508.6,874.3" fill="none" stroke="#111" stroke-width="3.0" stroke-linecap="round" stroke-linejoin="round"/>
<path d="M236.4,964.3C238.2,959.9 242.7,948.4 247.0,938.0C251.3,927.6 256.8,912.3 262.0,902.0C267.2,891.7 273.3,883.2 278.0,876.0C282.7,868.8 284.7,865.7 290.0,859.0C295.3,852.3 303.3,843.2 310.0,836.0C316.7,828.8 323.3,822.2 330.0,816.0C336.7,809.8 343.3,804.5 350.0,799.0C356.7,793.5 363.3,787.8 370.0,783.0C376.7,778.2 383.3,774.1 390.0,770.5C396.7,766.9 403.3,763.9 410.0,761.5C416.7,759.1 423.7,757.2 430.0,756.0C436.3,754.8 445.0,754.3 448.0,754.0" fill="none" stroke="#111" stroke-width="2.8" stroke-linecap="round" stroke-linejoin="round"/>
<path d="M222.9,981.4C217.3,1001.2 197.2,1070.7 189.6,1100.0C181.9,1129.3 181.4,1138.0 177.0,1157.0C172.6,1176.0 166.9,1197.6 162.9,1214.3C158.9,1231.0 154.6,1249.9 152.9,1257.0L162.9,1262.9C165.8,1261.5 175.5,1258.1 180.0,1254.3C184.5,1250.5 186.9,1246.7 190.0,1240.0C193.1,1233.3 195.3,1225.7 198.6,1214.3C201.9,1202.9 205.7,1190.5 210.0,1171.4C214.3,1152.4 220.2,1119.1 224.3,1100.0C228.4,1080.9 231.2,1071.3 234.3,1057.0C237.4,1042.7 241.2,1026.9 242.9,1014.3C244.6,1001.7 244.1,986.9 244.3,981.4Z" fill="#fff" stroke="none"/>
<path d="M222.9,981.4C217.3,1001.2 197.2,1070.7 189.6,1100.0C181.9,1129.3 181.4,1138.0 177.0,1157.0C172.6,1176.0 166.9,1197.6 162.9,1214.3C158.9,1231.0 154.6,1249.9 152.9,1257.0" fill="none" stroke="#111" stroke-width="3.0" stroke-linecap="round" stroke-linejoin="round"/>
<path d="M228.6,984.3C223.2,1003.6 203.8,1071.2 196.4,1100.0C189.0,1128.8 188.9,1138.0 184.3,1157.0C179.7,1176.0 173.2,1196.9 168.6,1214.3C164.0,1231.7 158.9,1253.6 157.0,1261.4" fill="none" stroke="#111" stroke-width="3.0" stroke-linecap="round" stroke-linejoin="round"/>
<path d="M234.3,984.3C229.3,1003.6 211.5,1071.2 204.3,1100.0C197.2,1128.8 196.0,1138.0 191.4,1157.0C186.8,1176.0 181.5,1197.1 177.0,1214.3C172.5,1231.5 166.4,1252.4 164.3,1260.0" fill="none" stroke="#111" stroke-width="3.0" stroke-linecap="round" stroke-linejoin="round"/>
<path d="M239.3,987.0C234.9,1005.8 218.5,1074.0 212.9,1100.0C207.3,1126.0 208.6,1128.6 205.7,1142.9C202.8,1157.2 199.3,1172.6 195.7,1185.7C192.1,1198.8 187.6,1211.6 184.3,1221.4C181.0,1231.2 177.1,1240.5 175.7,1244.3" fill="none" stroke="#111" stroke-width="3.0" stroke-linecap="round" stroke-linejoin="round"/>
<path d="M244.3,981.4C244.1,986.9 244.6,1001.7 242.9,1014.3C241.2,1026.9 237.4,1042.7 234.3,1057.0C231.2,1071.3 228.4,1080.9 224.3,1100.0C220.2,1119.1 214.3,1152.4 210.0,1171.4C205.7,1190.5 201.9,1202.9 198.6,1214.3C195.3,1225.7 193.1,1233.3 190.0,1240.0C186.9,1246.7 184.5,1250.5 180.0,1254.3C175.5,1258.1 165.8,1261.5 162.9,1262.9" fill="none" stroke="#111" stroke-width="3.0" stroke-linecap="round" stroke-linejoin="round"/>
<path d="M226,960 C232,966 240,967 247,964 L245,982 C238,985 229,985 222,979 C221,972 223,965 226,960 Z" fill="#fff" stroke="#111" stroke-width="2.6" stroke-linejoin="round"/>
<path d="M514.3,890.7C512.4,899.9 507.2,928.2 502.9,945.7C498.6,963.2 493.4,981.4 488.6,995.7C483.8,1010.0 478.6,1020.7 474.3,1031.4C470.0,1042.1 466.2,1052.4 462.9,1060.0C459.6,1067.6 458.1,1067.0 454.3,1077.0C450.5,1087.0 443.8,1108.5 440.0,1120.0C436.2,1131.5 432.8,1141.4 431.4,1145.7L413.6,1141.4C413.7,1139.3 413.6,1134.5 414.3,1128.6C415.0,1122.6 416.2,1112.1 417.9,1105.7C419.6,1099.3 421.1,1096.5 424.3,1090.0C427.5,1083.5 434.1,1075.1 437.0,1067.0C439.9,1058.9 439.9,1048.1 441.4,1041.4C442.8,1034.7 442.8,1034.6 445.7,1027.0C448.6,1019.4 455.3,1005.4 458.6,995.7C461.9,986.0 463.6,976.0 465.7,968.6C467.8,961.2 468.3,958.8 471.4,951.4C474.5,944.0 481.7,931.9 484.3,924.3C486.9,916.7 484.6,911.3 487.0,905.7C489.4,900.1 496.7,893.2 498.6,890.7Z" fill="#fff" stroke="none"/>
<path d="M514.3,890.7C512.4,899.9 507.2,928.2 502.9,945.7C498.6,963.2 493.4,981.4 488.6,995.7C483.8,1010.0 478.6,1020.7 474.3,1031.4C470.0,1042.1 466.2,1052.4 462.9,1060.0C459.6,1067.6 458.1,1067.0 454.3,1077.0C450.5,1087.0 443.8,1108.5 440.0,1120.0C436.2,1131.5 432.8,1141.4 431.4,1145.7" fill="none" stroke="#111" stroke-width="3.0" stroke-linecap="round" stroke-linejoin="round"/>
<path d="M505.7,892.9C504.0,900.8 499.8,924.0 495.7,940.0C491.6,956.0 486.2,974.6 481.4,988.6C476.6,1002.6 471.5,1012.4 467.0,1024.3C462.5,1036.2 457.6,1052.4 454.3,1060.0C451.0,1067.6 450.6,1061.2 447.0,1070.0C443.4,1078.8 436.7,1100.3 432.9,1112.9C429.1,1125.5 425.7,1140.2 424.3,1145.7" fill="none" stroke="#111" stroke-width="3.0" stroke-linecap="round" stroke-linejoin="round"/>
<path d="M497.0,900.7C495.6,907.2 492.4,926.5 488.6,940.0C484.8,953.5 479.1,967.8 474.3,981.4C469.5,995.0 463.8,1012.1 460.0,1021.4C456.2,1030.7 455.0,1027.7 451.4,1037.0C447.8,1046.3 442.9,1065.5 438.6,1077.0C434.3,1088.5 428.9,1095.4 425.7,1105.7C422.5,1116.0 420.4,1133.1 419.3,1138.6" fill="none" stroke="#111" stroke-width="3.0" stroke-linecap="round" stroke-linejoin="round"/>
<path d="M498.6,890.7C496.7,893.2 489.4,900.1 487.0,905.7C484.6,911.3 486.9,916.7 484.3,924.3C481.7,931.9 474.5,944.0 471.4,951.4C468.3,958.8 467.8,961.2 465.7,968.6C463.6,976.0 461.9,986.0 458.6,995.7C455.3,1005.4 448.6,1019.4 445.7,1027.0C442.8,1034.6 442.8,1034.7 441.4,1041.4C439.9,1048.1 439.9,1058.9 437.0,1067.0C434.1,1075.1 427.5,1083.5 424.3,1090.0C421.1,1096.5 419.6,1099.3 417.9,1105.7C416.2,1112.1 415.0,1122.6 414.3,1128.6C413.6,1134.5 413.7,1139.3 413.6,1141.4" fill="none" stroke="#111" stroke-width="3.0" stroke-linecap="round" stroke-linejoin="round"/>
<path d="M413.6,1141.4L422.9,1147.0L428.6,1148.6L431.4,1145.7" fill="none" stroke="#111" stroke-width="3.0" stroke-linecap="round" stroke-linejoin="round"/>
<rect x="499" y="876" width="18" height="15" fill="#fff" stroke="#111" stroke-width="2.6" transform="rotate(6 508 883)"/>
<line x1="506" y1="876" x2="505" y2="891" stroke="#111" stroke-width="2"/>
<rect x="513.6" y="876" width="3.4" height="15" fill="#111" transform="rotate(6 508 883)"/>
<line x1="242.5" y1="1296" x2="500.5" y2="1170.5" stroke="#172c86" stroke-width="1.3"/>
<polygon points="242.5,1296.0 250.1,1285.3 255.6,1296.6" fill="#1554c4"/>
<polygon points="500.5,1170.5 492.9,1181.2 487.4,1169.9" fill="#1554c4"/>
<line x1="442" y1="1150.7" x2="515" y2="1172.6" stroke="#172c86" stroke-width="1.3"/>
<line x1="173.6" y1="1272" x2="247.5" y2="1304" stroke="#172c86" stroke-width="1.3"/>
</svg>
</body></html>
